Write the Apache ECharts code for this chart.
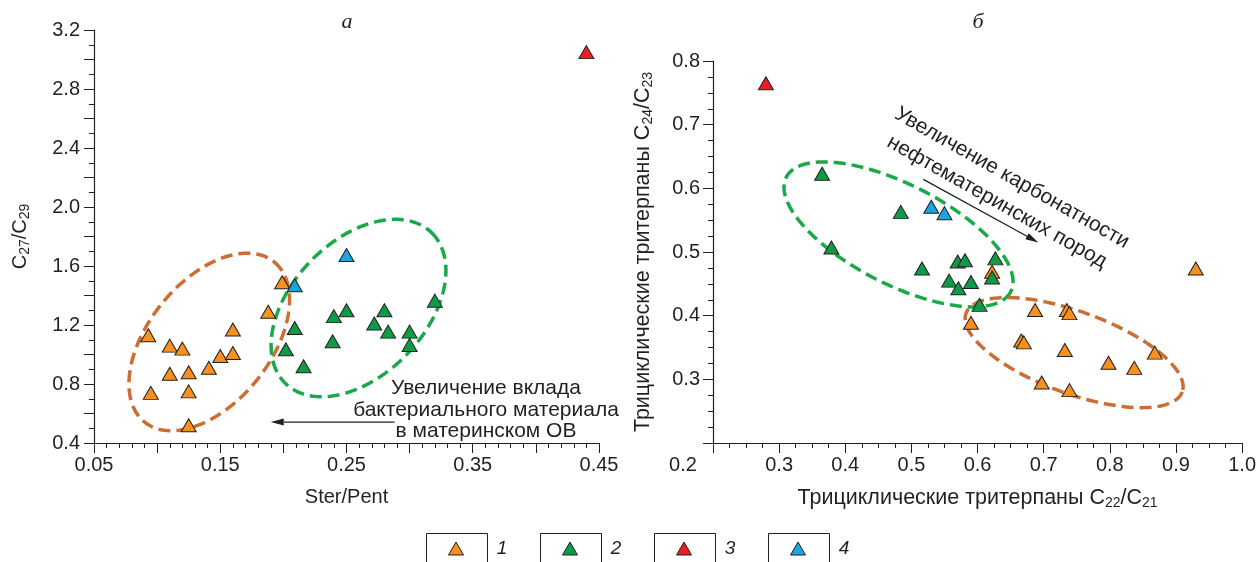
<!DOCTYPE html>
<html>
<head>
<meta charset="utf-8">
<script src="https://cdn.jsdelivr.net/npm/echarts@6/dist/echarts.min.js"></script>
<style>
  html, body { margin: 0; padding: 0; background: #fff; }
  #main { width: 1259px; height: 562px; }
</style>
</head>
<body>
<div id="main"></div>
<script>
// а: Ster/Pent – C27/C29
const aGroup1 = [[0.093, 1.13], [0.095, 0.74], [0.110, 1.06], [0.110, 0.87], [0.120, 1.04], [0.125, 0.88],
  [0.125, 0.75], [0.125, 0.52], [0.141, 0.91], [0.150, 0.99], [0.160, 1.01], [0.160, 1.17], [0.188, 1.29], [0.199, 1.49]];
const aGroup2 = [[0.202, 1.035], [0.209, 1.18], [0.216, 0.92], [0.239, 1.09], [0.240, 1.26], [0.250, 1.30],
  [0.272, 1.21], [0.280, 1.30], [0.283, 1.155], [0.300, 1.155], [0.300, 1.065], [0.320, 1.365]];
const aGroup3 = [[0.440, 3.05]];
const aGroup4 = [[0.209, 1.47], [0.250, 1.675]];

// б: C22/C21 – C24/C23
const bGroup1 = [[0.930, 0.474], [0.622, 0.469], [0.590, 0.389], [0.687, 0.409], [0.735, 0.409], [0.739, 0.404],
  [0.666, 0.361], [0.670, 0.358], [0.732, 0.346], [0.798, 0.326], [0.837, 0.318], [0.868, 0.342], [0.697, 0.295], [0.739, 0.283]];
const bGroup2 = [[0.365, 0.623], [0.484, 0.563], [0.379, 0.507], [0.516, 0.474], [0.570, 0.485], [0.581, 0.487],
  [0.627, 0.490], [0.622, 0.460], [0.557, 0.455], [0.571, 0.443], [0.590, 0.453], [0.603, 0.417]];
const bGroup3 = [[0.280, 0.765]];
const bGroup4 = [[0.530, 0.571], [0.550, 0.561]];

const groupNames = ['1', '2', '3', '4'];
const groupColors = ['#f7901e', '#0e9b48', '#ec1c24', '#1ba6de'];

// ellipses: [gridIndex, centre (data), semi-axes px, angle deg, colour]
const ellipses = [
  [0, [0.1413, 1.085], 103, 61, -51, '#cc6d33'],
  [0, [0.2595, 1.315], 105, 67, -46, '#19a84a'],
  [1, [0.4805, 0.5276], 126, 50, 27, '#19a84a'],
  [1, [0.746, 0.342], 115, 41, 20, '#cc6d33']
];
const arrows = [
  [0, [0.288, 0.542], [0.190, 0.542]],
  [1, [0.518, 0.614], [0.692, 0.515]]
];

const ink = '#231f20';
const font = '"Liberation Sans", Arial, sans-serif';

const chart = echarts.init(document.getElementById('main'));

function richFor(size) {
  return {
    n: { fontSize: size, fontFamily: font, color: ink },
    s: { fontSize: 14, fontFamily: font, color: ink, padding: [9, 0, 0, 0] }
  };
}

function axisBase(extra, nameSize) {
  return Object.assign({
    type: 'value',
    splitLine: { show: false },
    axisLine: { lineStyle: { color: ink, width: 1.2 } },
    axisTick: { show: true, length: 10, lineStyle: { color: ink, width: 1 } },
    nameLocation: 'middle',
    nameTextStyle: { fontSize: nameSize, fontFamily: font, color: ink, rich: richFor(nameSize) }
  }, extra);
}

function scatter(data, i, grid) {
  return {
    type: 'scatter',
    name: groupNames[i],
    xAxisIndex: grid,
    yAxisIndex: grid,
    data: data,
    symbol: 'triangle',
    symbolSize: [15, 13],
    z: 3,
    itemStyle: { color: groupColors[i], borderColor: ink, borderWidth: 1, opacity: 1 }
  };
}

let option = {
  animation: false,
  backgroundColor: '#fff',
  grid: [
    { left: 94, right: 660, top: 30, bottom: 119 },
    { left: 713, right: 16, top: 61, bottom: 119 }
  ],
  xAxis: [
    axisBase({
      gridIndex: 0, min: 0.05, max: 0.45, interval: 0.05,
      minorTick: { show: true, splitNumber: 5, length: 5, lineStyle: { color: ink } },
      axisLabel: {
        fontSize: 20, fontFamily: font, color: ink, margin: 12,
        formatter: v => (Math.round(v * 100) % 10 === 5 ? v.toFixed(2) : '')
      },
      name: 'Ster/Pent', nameGap: 44
    }, 20),
    axisBase({
      gridIndex: 1, min: 0.2, max: 1.0, interval: 0.1,
      minorTick: { show: true, splitNumber: 4, length: 5, lineStyle: { color: ink } },
      axisLabel: {
        fontSize: 20, fontFamily: font, color: ink, margin: 12,
        formatter: v => (Math.abs(v - 0.2) < 1e-6 ? '{z|0.2}' : v.toFixed(1)),
        rich: { z: { fontSize: 20, fontFamily: font, color: ink, padding: [0, 60, 0, 0] } }
      },
      name: '{n|Трициклические тритерпаны C}{s|22}{n|/C}{s|21}', nameGap: 44
    }, 21.5),
  ],
  yAxis: [
    axisBase({
      gridIndex: 0, min: 0.4, max: 3.2, interval: 0.2,
      minorTick: { show: true, splitNumber: 2, length: 5, lineStyle: { color: ink } },
      axisLabel: {
        fontSize: 20, fontFamily: font, color: ink, margin: 14,
        formatter: v => (Math.round(v * 10) % 4 === 0 ? v.toFixed(1) : '')
      },
      name: '{n|C}{s|27}{n|/C}{s|29}', nameGap: 62
    }, 20),
    axisBase({
      gridIndex: 1, min: 0.2, max: 0.8, interval: 0.1,
      minorTick: { show: true, splitNumber: 4, length: 5, lineStyle: { color: ink } },
      axisLabel: {
        fontSize: 20, fontFamily: font, color: ink, margin: 13,
        formatter: v => (Math.abs(v - 0.2) < 1e-6 ? '' : v.toFixed(1))
      },
      name: '{n|Трициклические тритерпаны C}{s|24}{n|/C}{s|23}', nameGap: 58
    }, 21.5)
  ],
  series: [
    scatter(aGroup1, 0, 0), scatter(aGroup2, 1, 0), scatter(aGroup3, 2, 0), scatter(aGroup4, 3, 0),
    scatter(bGroup1, 0, 1), scatter(bGroup2, 1, 1), scatter(bGroup3, 2, 1), scatter(bGroup4, 3, 1)
  ]
};
chart.setOption(option);

// annotations drawn after the axes exist
let graphics = [];

ellipses.forEach(([g, c, a, b, deg, col]) => {
  const p = chart.convertToPixel({ gridIndex: g }, c);
  const t = deg * Math.PI / 180;
  const pts = [];
  for (let i = 0; i < 180; i++) {
    const u = i / 180 * Math.PI * 2;
    const ex = a * Math.cos(u), ey = b * Math.sin(u);
    pts.push([p[0] + ex * Math.cos(t) - ey * Math.sin(t), p[1] + ex * Math.sin(t) + ey * Math.cos(t)]);
  }
  graphics.push({
    type: 'polygon', z: 1, silent: true,
    shape: { points: pts },
    style: { fill: null, stroke: col, lineWidth: 3.5, lineDash: [12, 6] }
  });
});

arrows.forEach(([g, from, to]) => {
  const p1 = chart.convertToPixel({ gridIndex: g }, from);
  const p2 = chart.convertToPixel({ gridIndex: g }, to);
  const ang = Math.atan2(p2[1] - p1[1], p2[0] - p1[0]);
  const L = 13, W = 3.5;
  const bx = p2[0] - L * Math.cos(ang), by = p2[1] - L * Math.sin(ang);
  graphics.push({
    type: 'line', z: 4, silent: true,
    shape: { x1: p1[0], y1: p1[1], x2: bx, y2: by },
    style: { stroke: ink, lineWidth: 1.3 }
  });
  graphics.push({
    type: 'polygon', z: 4, silent: true,
    shape: { points: [p2, [bx - W * Math.sin(ang), by + W * Math.cos(ang)], [bx + W * Math.sin(ang), by - W * Math.cos(ang)]] },
    style: { fill: ink }
  });
});

function label(text, x, y, f, rot, lh) {
  return {
    type: 'text', z: 5, silent: true, x: x, y: y, rotation: rot || 0,
    style: {
      text: text, x: 0, y: 0, font: f, fill: ink,
      align: 'center', verticalAlign: 'middle', textAlign: 'center', textVerticalAlign: 'middle',
      lineHeight: lh || 22
    }
  };
}

const tilt = -29.5 * Math.PI / 180;
graphics.push(label('а', 347, 22, 'italic 22px "Liberation Serif", serif'));
graphics.push(label('б', 978, 22, 'italic 22px "Liberation Serif", serif'));
graphics.push(label('Увеличение вклада\nбактериального материала\nв материнском ОВ', 486, 410, '21px ' + font, 0, 21.5));
graphics.push(label('Увеличение карбонатности', 1012, 178, '21px ' + font, tilt));
graphics.push(label('нефтематеринских пород', 997, 202, '21px ' + font, tilt));

// legend boxes
groupNames.forEach((n, i) => {
  const x0 = 426 + i * 114;
  graphics.push({
    type: 'rect', z: 5, silent: true,
    shape: { x: x0 + 0.5, y: 533.5, width: 61, height: 40 },
    style: { fill: '#fff', stroke: ink, lineWidth: 1 }
  });
  const cx = x0 + 30, cy = 549;
  graphics.push({
    type: 'polygon', z: 6, silent: true,
    shape: { points: [[cx, cy - 7], [cx + 7.5, cy + 6], [cx - 7.5, cy + 6]] },
    style: { fill: groupColors[i], stroke: ink, lineWidth: 1 }
  });
  graphics.push(label(n, x0 + 76, 549, 'italic 19px ' + font));
});

chart.setOption({ graphic: graphics });
</script>
</body>
</html>
